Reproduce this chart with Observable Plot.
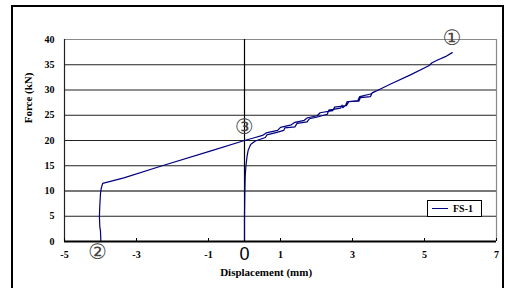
<!DOCTYPE html>
<html><head><meta charset="utf-8">
<script src="https://cdn.jsdelivr.net/npm/d3@7"></script>
<script src="https://cdn.jsdelivr.net/npm/@observablehq/plot@0.6"></script>
<style>
html,body{margin:0;padding:0;background:#fff;overflow:hidden;}
#wrap{position:relative;width:508px;height:288px;}
#frame{position:absolute;left:11px;top:5px;width:493px;height:300px;border:2px solid #000;box-sizing:border-box;}
#chart{position:absolute;left:0;top:0;}
#legend{position:absolute;left:427px;top:200px;width:55px;height:17px;border:1px solid #000;box-sizing:border-box;background:#fff;
 font:bold 10px "Liberation Serif",serif;display:flex;align-items:center;}
#legend span.l{display:inline-block;width:16px;height:0;border-top:1.2px solid #000080;margin:0 5px 0 4px;}
</style></head>
<body><div id="wrap"><div id="frame"></div><div id="chart"></div>
<div id="legend"><span class="l"></span><span>FS-1</span></div></div>
<script>
const displacement = [0,0,0.01,0.02,0.04,0.07,0.1,0.17,0.3,0.58,0.62,0.9,1.09,1.12,1.4,1.46,1.74,1.8,2.0,2.3,2.34,2.67,2.71,2.73,2.81,2.85,3.18,3.22,3.5,3.55,3.69,4.06,4.61,5.12,5.21,5.35,5.58,5.77,
 5.58,5.35,5.21,5.12,4.61,4.06,3.69,3.5,3.2,3.15,2.9,2.83,2.5,2.45,2.1,2.02,1.75,1.66,1.4,1.3,1.0,0.92,0.6,0.5,0.25,0,-1,-2.33,-3.35,-3.94,-3.98,-4.0,-4.02,-4.03,-4.02,-4.0,-3.99];
const force = [0,5,10,13,15,16.8,18,19.2,19.9,20.6,21.1,21.6,22.0,22.5,22.7,23.4,23.7,24.3,24.6,25.2,26.0,26.4,27.0,26.5,27.0,27.7,27.8,28.5,28.7,29.5,29.9,31.2,33.0,34.8,35.4,35.9,36.6,37.4,
 36.6,35.9,35.4,34.8,33.0,31.2,29.9,29.2,28.7,27.9,27.7,26.9,26.6,25.9,25.5,24.9,24.5,24.0,23.6,23.1,22.6,22.0,21.5,21.0,20.5,20,17.8,14.9,12.6,11.5,10.5,9.5,7,5,3,2,0];
const xTicks = [-5,-3,-1,1,3,5,7];
const yTicks = [0,5,10,15,20,25,30,35,40];
const gridDark = [5,15,20,25,30,35];
const gridGray = [10];
const annLabel = ["①","②","③"];
const annX = [5.77,-4.08,0];
const annY = [40.2,-2.2,22.6];

const data = displacement.map((d,i)=>({x:d,y:force[i]}));
const ann = annLabel.map((t,i)=>({t,x:annX[i],y:annY[i]}));

const chart = Plot.plot({
  width:508, height:288,
  marginLeft:64, marginRight:12, marginTop:39, marginBottom:47,
  style:{background:"transparent", fontFamily:"'Liberation Serif',serif", fontWeight:"bold", fontSize:"10px", color:"#000"},
  x:{domain:[-5,7], label:null},
  y:{domain:[0,40], label:null},
  marks:[
    Plot.ruleY(gridDark,{stroke:"#222",strokeWidth:1.2}),
    Plot.ruleY(gridGray,{stroke:"#777",strokeWidth:2}),
    Plot.ruleY([40],{stroke:"#888",strokeWidth:1.2}),
    Plot.ruleX([7],{stroke:"#888",strokeWidth:1.2}),
    Plot.ruleX([-5],{stroke:"#222",strokeWidth:1.2}),
    Plot.ruleX([0],{stroke:"#000",strokeWidth:1.2}),
    Plot.line(data,{x:"x",y:"y",stroke:"#000080",strokeWidth:1.2,curve:"linear"}),
    Plot.ruleY([0],{stroke:"#000",strokeWidth:2}),
    Plot.axisX({ticks:xTicks,tickSize:0,tickPadding:9,tickFormat:d=>String(d),fontWeight:"bold",fontSize:10,label:null}),
    Plot.axisX({ticks:xTicks,tickSize:3,text:null,dy:-3,label:null}),
    Plot.axisY({ticks:yTicks,tickSize:0,tickPadding:10,fontWeight:"bold",fontSize:10,label:null}),
    Plot.text([0],{x:d=>d,frameAnchor:"bottom",dy:18,text:d=>String(d),fontSize:18,fontWeight:"normal",fontFamily:"'Liberation Sans',sans-serif"}),
    Plot.text(ann,{x:"x",y:"y",text:"t",fontSize:21,fontWeight:"normal",fill:"#444",fontFamily:"'DejaVu Sans',sans-serif"}),
    Plot.text(["Displacement (mm)"],{x:0.6,frameAnchor:"bottom",dy:34,text:d=>d,fontSize:11,fontWeight:"bold"}),
    Plot.text(["Force (kN)"],{y:23.4,frameAnchor:"left",dx:-36,rotate:-90,text:d=>d,fontSize:11,fontWeight:"bold"})
  ]
});
document.getElementById("chart").appendChild(chart);
</script></body></html>
